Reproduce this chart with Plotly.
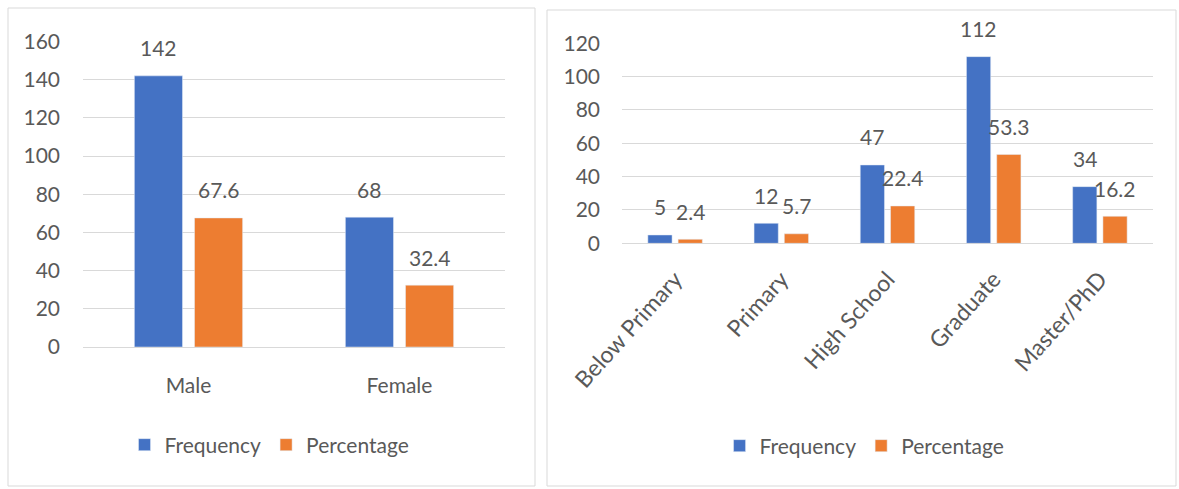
import plotly.graph_objects as go

# Gender distribution
gender = ["Male", "Female"]
gender_freq = [142, 68]
gender_pct = [67.6, 32.4]

# Education distribution
education = ["Below Primary", "Primary", "High School", "Graduate", "Master/PhD"]
edu_freq = [5, 12, 47, 112, 34]
edu_pct = [2.4, 5.7, 22.4, 53.3, 16.2]

BLUE = "#4472C4"
ORANGE = "#ED7D31"
GRID = "#D9D9D9"
TEXT = "#595959"
FONT = "Lato"
FS = 21

W, H = 1179, 489
BARGAP = 0.43
GROUPGAP = 0.2

# plot areas in pixels: (left, right, y of zero, y of top tick)
left_box = dict(x0=83, x1=505, y0=347, y1=41.5, top=160)
right_box = dict(x0=622, x1=1153, y0=243.3, y1=43.3, top=120)


def xdom(b):
    return [b["x0"] / W, b["x1"] / W]


def ydom(b):
    return [1 - b["y0"] / H, 1 - b["y1"] / H]


fig = go.Figure()

fig.add_trace(go.Bar(x=gender, y=gender_freq, name="Frequency", marker_color=BLUE,
                     xaxis="x", yaxis="y", legend="legend"))
fig.add_trace(go.Bar(x=gender, y=gender_pct, name="Percentage", marker_color=ORANGE,
                     xaxis="x", yaxis="y", legend="legend"))
fig.add_trace(go.Bar(x=education, y=edu_freq, name="Frequency", marker_color=BLUE,
                     xaxis="x2", yaxis="y2", legend="legend2"))
fig.add_trace(go.Bar(x=education, y=edu_pct, name="Percentage", marker_color=ORANGE,
                     xaxis="x2", yaxis="y2", legend="legend2"))

# value labels above each bar
annotations = []
for cats, freq, pct, box, xr, yr in [
    (gender, gender_freq, gender_pct, left_box, "x", "y"),
    (education, edu_freq, edu_pct, right_box, "x2", "y2"),
]:
    cat_px = (box["x1"] - box["x0"]) / len(cats)
    off = cat_px * (1 - BARGAP) / 4
    for c, f, p in zip(cats, freq, pct):
        for v, s in ((f, -off), (p, off)):
            annotations.append(dict(
                x=c, y=v, xref=xr, yref=yr, text=f"{v:g}", showarrow=False,
                xshift=s, yshift=28, yanchor="middle", xanchor="center",
                font=dict(family=FONT, size=FS, color=TEXT)))

axis_font = dict(family=FONT, size=FS, color=TEXT)
common_y = dict(showgrid=True, gridcolor=GRID, gridwidth=1, zeroline=True,
                zerolinecolor=GRID, zerolinewidth=1, showline=False, ticks="",
                dtick=20, tickfont=axis_font, fixedrange=True, automargin=False)
common_x = dict(showgrid=False, zeroline=False, showline=False, ticks="",
                fixedrange=True, automargin=False)

fig.update_layout(
    width=W, height=H,
    margin=dict(l=0, r=0, t=0, b=0, autoexpand=False),
    paper_bgcolor="white", plot_bgcolor="white",
    barmode="group", bargap=BARGAP, bargroupgap=GROUPGAP,
    font=dict(family=FONT, size=FS, color=TEXT),
    xaxis=dict(domain=xdom(left_box), anchor="y", ticklabelstandoff=24,
               tickfont=axis_font, **common_x),
    yaxis=dict(domain=ydom(left_box), anchor="x", range=[0, left_box["top"]],
               ticklabelstandoff=22, **common_y),
    xaxis2=dict(domain=xdom(right_box), anchor="y2", tickangle=-48,
                ticklabelstandoff=17,
                tickfont=dict(family=FONT, size=23, color=TEXT), **common_x),
    yaxis2=dict(domain=ydom(right_box), anchor="x2", range=[0, right_box["top"]],
                ticklabelstandoff=21, **common_y),
    legend=dict(orientation="h", x=0.2286, y=1 - 445 / H, xanchor="center",
                yanchor="middle", font=axis_font, bgcolor="rgba(0,0,0,0)"),
    legend2=dict(orientation="h", x=0.7333, y=1 - 446 / H, xanchor="center",
                 yanchor="middle", font=axis_font, bgcolor="rgba(0,0,0,0)"),
    annotations=annotations,
    shapes=[
        dict(type="rect", xref="paper", yref="paper",
             x0=8 / W, x1=535 / W, y0=1 - 486 / H, y1=1 - 8 / H,
             line=dict(color=GRID, width=1)),
        dict(type="rect", xref="paper", yref="paper",
             x0=547 / W, x1=1176 / W, y0=1 - 486 / H, y1=1 - 10 / H,
             line=dict(color=GRID, width=1)),
    ],
)

fig.write_html("out.html")
